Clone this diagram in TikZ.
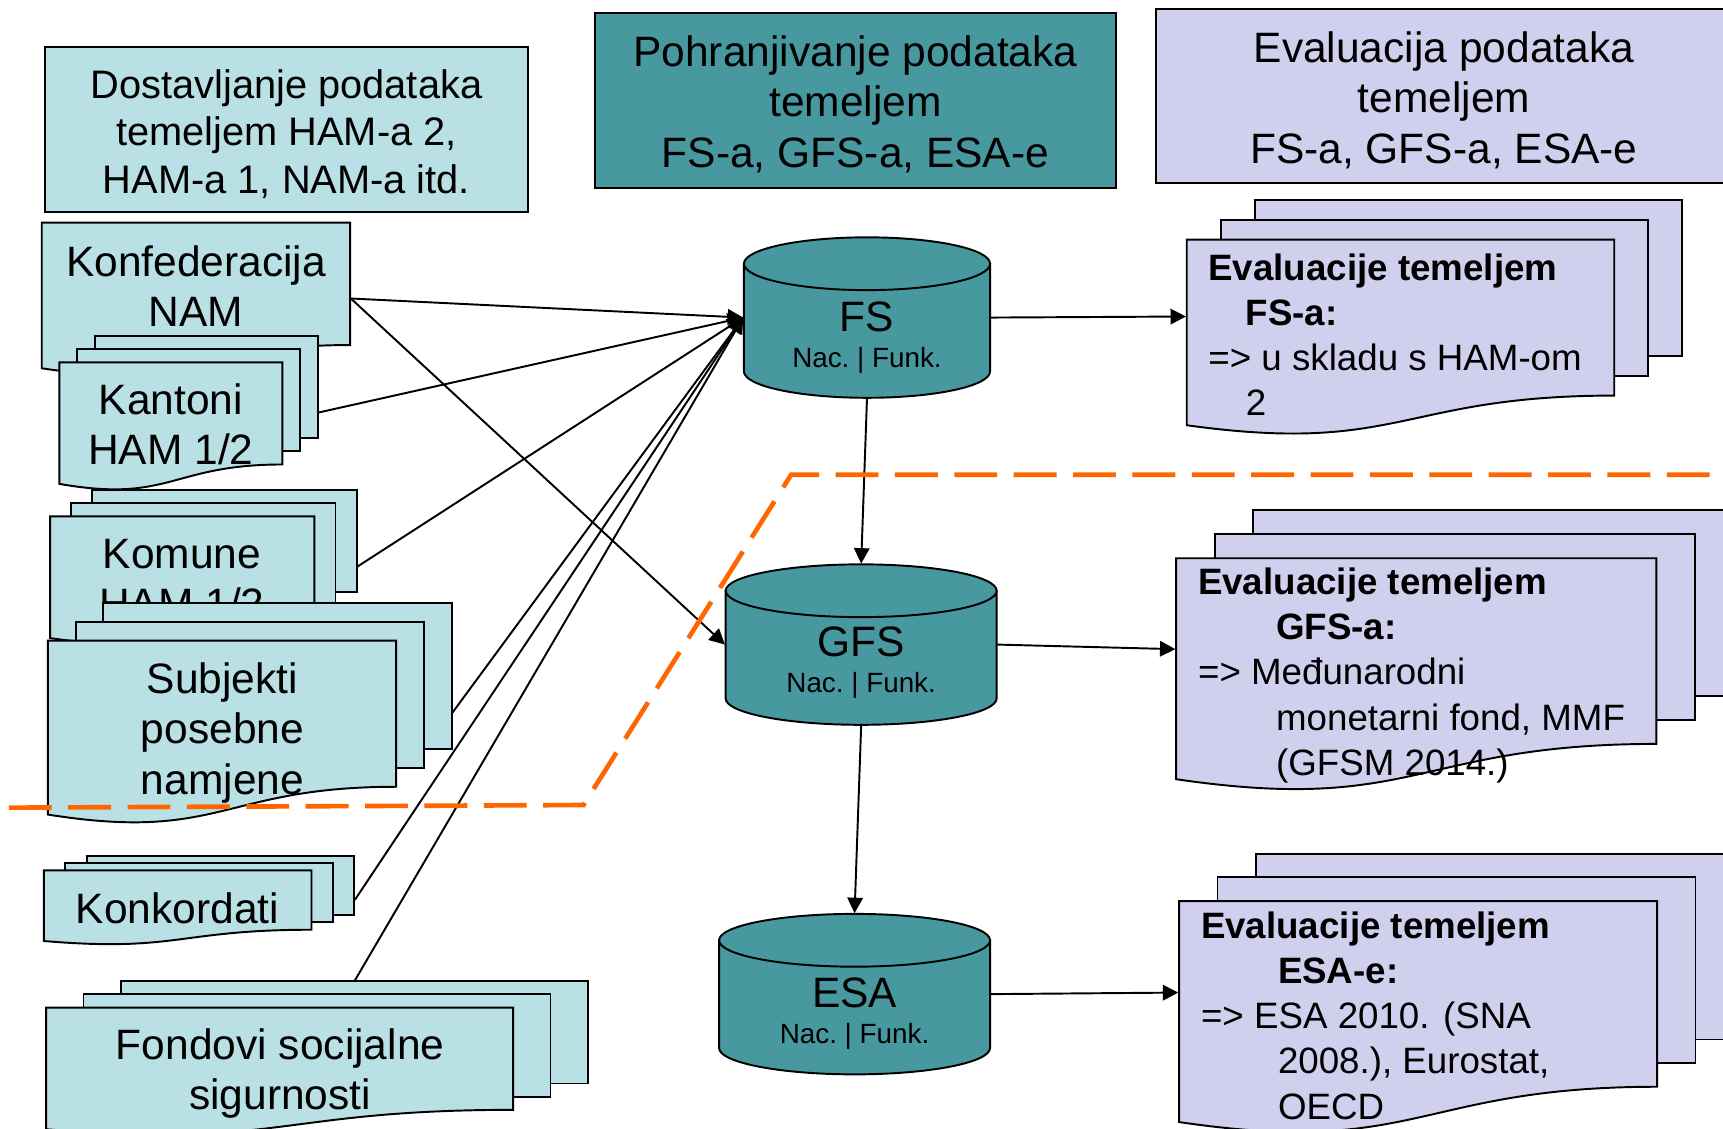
\documentclass[tikz,border=0pt]{standalone}
\usepackage{fontspec}
\setmainfont{Liberation Sans}
\usetikzlibrary{fit,arrows.meta}

\definecolor{boxcyan}{RGB}{185,224,228}
\definecolor{boxteal}{RGB}{71,152,159}
\definecolor{boxlav}{RGB}{208,208,238}
\definecolor{dashorange}{RGB}{255,102,0}

\tikzset{
    sheet/.style={draw=black, line width=0.5pt},
    docgroup/.style={inner sep=0pt},
    titlebox/.style={draw=black, line width=0.5pt, inner sep=0pt, align=center,
        font=\fontsize{11}{13.1}\selectfont},
    doctext/.style={inner sep=0pt, align=center, font=\fontsize{11}{13.1}\selectfont},
    cyltext/.style={inner sep=0pt, align=center, font=\fontsize{11}{9.4}\selectfont},
    evaltext/.style={inner sep=0pt, align=left, anchor=north west,
        font=\fontsize{9.5}{11.7}\selectfont},
    conn/.style={->, >={Stealth[length=4pt, width=4pt, inset=0pt]}, line width=0.5pt},
}

\newcommand{\subsize}{\fontsize{7.2}{9.4}\selectfont}
\newcommand{\topstrut}{\rule{0pt}{10pt}}

% list s valovitim dnom: boja, x, y, sirina, visina
\newcommand{\docfront}[5]{%
    \filldraw[sheet, fill=#1] (#2,#3) -- ++(#4,0) -- ++(0,#5)
        .. controls ({#2+#4/2},{#3+#5}) and ({#2+#4/2},{#3+1.38*#5}) .. (#2,{#3+1.19*#5}) -- cycle;
}

% tri lista: ime, boja, x, y, sirina, visina, pomak x, pomak y
\newcommand{\multidoc}[8]{%
    \foreach \k in {2,1}
        \filldraw[sheet, fill=#2] ({#3+\k*#7},{#4+(2-\k)*#8}) rectangle ++(#5,#6);
    \docfront{#2}{#3}{#4+2*#8}{#5}{#6}
    \coordinate (#1-n) at ({#3+2*#7+#5/2},#4);
    \node[docgroup, fit={(#3,#4) ({#3+2*#7+#5},{#4+2*#8+1.24*#6})}] (#1) {};
}

% baza: ime, x sredine, y gornje elipse, polumjer
\newcommand{\dbcyl}[4]{%
    \filldraw[sheet, fill=boxteal] ({#2-#4},#3) -- ++(0,98)
        arc[start angle=180, end angle=360, x radius={#4*0.01cm}, y radius=0.24cm]
        -- ({#2+#4},#3) -- cycle;
    \filldraw[sheet, fill=boxteal] (#2,#3) ellipse[x radius={#4*0.01cm}, y radius=0.24cm];
    \node[docgroup, fit={({#2-#4},{#3-24}) ({#2+#4},{#3+122})}] (#1) {};
}

\begin{document}
\begin{tikzpicture}[x=0.01cm, y=-0.01cm]
    \useasboundingbox (0,0) rectangle (1568,1027);
    \clip (0,0) rectangle (1568,1027);

    %%%%%%%%%% Naslovi %%%%%%%%%%
    \node[titlebox, fill=boxcyan, minimum width=4.40cm, minimum height=1.50cm,
        font=\fontsize{10.3}{12.2}\selectfont] (dost) at (260.7,117.5)
        {\topstrut Dostavljanje podataka\\temeljem HAM-a 2,\\HAM-a 1, NAM-a itd.};
    \node[titlebox, fill=boxteal, minimum width=4.736cm, minimum height=1.595cm] (pohr) at (778.5,91.3)
        {\topstrut Pohranjivanje podataka\\temeljem\\FS-a, GFS-a, ESA-e};
    \node[titlebox, fill=boxlav, minimum width=5.24cm, minimum height=1.583cm] (eval) at (1314,87.7)
        {\topstrut Evaluacija podataka\\temeljem\\FS-a, GFS-a, ESA-e};

    %%%%%%%%%% Izvori %%%%%%%%%%
    \docfront{boxcyan}{38}{202.6}{280.6}{111.4}
    \node[docgroup, fit={(38,202.6) (318.6,340.7)}] (konf) {};
    \node[doctext] (konf-t) at (178.5,260.5) {Konfederacija\\NAM};

    \multidoc{kant}{boxcyan}{54}{305.7}{203}{93}{16.2}{12}
    \node[doctext] (kant-t) at (155.5,386) {Kantoni\\HAM 1/2};

    \multidoc{kom}{boxcyan}{45.6}{446}{240.5}{93}{19.2}{12}
    \node[doctext] (kom-t) at (165.5,527) {Komune\\HAM 1/2};

    \multidoc{subj}{boxcyan}{43.5}{549}{317}{133}{25.3}{17}
    \node[doctext] (subj-t) at (202.5,667) {Subjekti\\posebne\\namjene};

    \multidoc{konk}{boxcyan}{40}{778.7}{243.5}{54}{19.4}{6.7}
    \node[doctext] (konk-t) at (161.5,826.5) {Konkordati};

    \multidoc{fond}{boxcyan}{42}{893}{425}{93}{34}{12}
    \node[doctext] (fond-t) at (255,977) {Fondovi socijalne\\sigurnosti};

    %%%%%%%%%% Baze %%%%%%%%%%
    \dbcyl{fs}{789}{240}{112}
    \dbcyl{gfs}{783.7}{537.6}{123.3}
    \dbcyl{esa}{777.7}{855.7}{123.3}
    \node[cyltext] (fs-t) at (789,307.2) {FS\\{\subsize Nac.\ |\ Funk.}};
    \node[cyltext] (gfs-t) at (783.7,602.7) {GFS\\{\subsize Nac.\ |\ Funk.}};
    \node[cyltext] (esa-t) at (777.7,922.2) {ESA\\{\subsize Nac.\ |\ Funk.}};

    %%%%%%%%%% Evaluacije %%%%%%%%%%
    \multidoc{fsev}{boxlav}{1080}{182}{389}{142}{31}{18}
    \node[evaltext] (fsev-t) at (1099,230) {\textbf{Evaluacije temeljem}\\
        \hspace*{0.34cm}\textbf{FS-a:}\\=> u skladu s HAM-om\\\hspace*{0.34cm}2};

    \multidoc{gfsev}{boxlav}{1070.4}{464}{437}{169}{35}{22}
    \node[evaltext] (gfsev-t) at (1089.6,516) {\textbf{Evaluacije temeljem}\\
        \hspace*{0.71cm}\textbf{GFS-a:}\\=> Međunarodni\\
        \hspace*{0.71cm}monetarni fond, MMF\\\hspace*{0.71cm}(GFSM 2014.)};

    \multidoc{esaev}{boxlav}{1073}{777}{435}{169}{35}{21.5}
    \node[evaltext] (esaev-t) at (1092.3,829) {\textbf{Evaluacije temeljem}\\
        \hspace*{0.7cm}\textbf{ESA-e:}\\=> ESA 2010. (SNA\\
        \hspace*{0.7cm}2008.), Eurostat,\\\hspace*{0.7cm}OECD};

    %%%%%%%%%% Strelice %%%%%%%%%%
    \foreach \s in {konf,kant,kom,subj,konk}
        \draw[conn] (\s.east) -- (fs.west);
    \draw[conn] (fond-n) -- (fs.west);
    \draw[conn] (konf.east) -- (gfs.west);
    \draw[conn] (fs.south) -- (gfs.north);
    \draw[conn] (gfs.south) -- (esa.north);
    \foreach \db in {fs,gfs,esa}
        \draw[conn] (\db.east) -- (\db ev.west);

    %%%%%%%%%% Granica %%%%%%%%%%
    \draw[dashorange, line width=1.2pt, dash pattern=on 0.39cm off 0.15cm]
        (8,735) -- (531,732.6) -- (720,432) -- (1580,432);
\end{tikzpicture}
\end{document}
